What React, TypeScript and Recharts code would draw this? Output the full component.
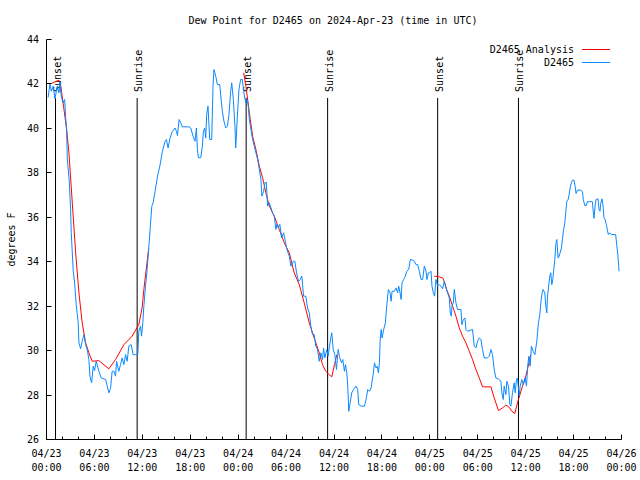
import React from 'react';
import { ComposedChart, Line, XAxis, YAxis, ReferenceLine, Legend } from 'recharts';

const FONT = '"DejaVu Sans Mono", "Liberation Mono", monospace';
const TITLE = 'Dew Point for D2465 on 2024-Apr-23 (time in UTC)';
const Y_LABEL = 'degrees F';
const START_MONTH = '04';
const START_DAY = 23;
const RED = '#ff0000';
const BLUE = '#0a88ff';

const X_TICKS = [0, 2, 4, 6, 8, 10, 12, 14, 16, 18, 20, 22, 24, 26, 28, 30, 32, 34, 36, 38, 40, 42, 44, 46, 48, 50, 52, 54, 56, 58, 60, 62, 64, 66, 68, 70, 72];
const Y_TICKS = [26, 28, 30, 32, 34, 36, 38, 40, 42, 44];

const SUN_EVENTS = [
  { h: 1.13, label: 'Sunset' },
  { h: 11.35, label: 'Sunrise' },
  { h: 25.0, label: 'Sunset' },
  { h: 35.2, label: 'Sunrise' },
  { h: 48.98, label: 'Sunset' },
  { h: 59.1, label: 'Sunrise' },
];
const SUN_LINE_TOP = 41.37;

const SERIES_NAMES = ['D2465 Analysis', 'D2465'];

// hours since 04/23 00:00 UTC, dew point in F
const blueSeries: [number, number][] = [
  [0.19,41.38],[0.44,42.0],[0.6,41.67],[0.85,41.9],[1.06,41.33],[1.35,41.9],[1.56,41.6],[1.69,42.1],[1.85,41.45],[2.06,41.15],[2.27,41.3],[2.4,40.48],[2.52,39.95],[2.6,38.68],[2.85,37.62],[3.02,36.35],[3.1,35.3],[3.35,33.57],[3.52,33.05],[3.72,32.07],[3.97,31.25],[4.06,30.35],[4.27,30.08],[4.47,30.42],[4.69,30.72],[4.9,30.27],[5.1,30.05],[5.31,29.6],[5.44,28.85],[5.65,28.55],[5.85,29.3],[6.02,29.1],[6.22,29.52],[6.56,29.07],[6.85,28.77],[7.4,28.7],[7.6,28.4],[7.81,28.1],[8.02,28.3],[8.22,29.07],[8.44,29.07],[8.65,28.85],[8.77,29.52],[9.06,29.07],[9.27,29.37],[9.47,29.67],[9.69,29.37],[9.9,29.82],[10.1,29.52],[10.31,30.2],[10.6,30.27],[10.85,29.82],[11.15,29.82],[11.44,29.85],[11.56,30.87],[11.77,31.1],[11.9,30.65],[12.06,31.25],[12.19,32.0],[12.4,32.9],[12.6,33.65],[12.85,34.85],[12.97,35.45],[13.19,36.5],[13.35,36.65],[13.6,37.17],[13.9,37.85],[14.19,38.3],[14.52,38.97],[14.85,39.42],[15.02,39.5],[15.22,39.12],[15.47,39.57],[15.77,39.87],[16.1,40.02],[16.27,39.87],[16.4,39.68],[16.6,40.4],[16.81,40.25],[17.02,40.07],[17.85,40.07],[18.06,40.02],[18.35,39.65],[18.6,39.42],[18.77,40.02],[18.9,39.05],[19.02,38.68],[19.31,38.68],[19.52,39.2],[19.65,39.87],[19.81,40.02],[19.94,39.57],[20.06,40.62],[20.22,41.0],[20.35,40.1],[20.44,39.5],[20.69,39.5],[20.85,41.9],[20.97,42.65],[21.19,42.35],[21.4,41.97],[21.69,41.97],[21.81,41.52],[22.02,40.77],[22.22,40.32],[22.44,40.02],[22.65,40.1],[22.85,40.62],[23.06,41.67],[23.19,42.05],[23.4,41.3],[23.6,40.1],[23.69,39.12],[23.9,40.55],[24.1,41.75],[24.31,42.2],[24.52,42.2],[24.72,41.6],[24.94,41.15],[25.15,41.3],[25.27,41.0],[25.4,40.4],[25.6,39.95],[25.81,39.5],[26.02,39.2],[26.22,38.9],[26.44,38.6],[26.65,38.15],[26.85,37.7],[26.97,36.95],[27.19,37.17],[27.35,37.55],[27.52,37.58],[27.69,36.5],[27.9,36.65],[28.1,36.43],[28.31,36.2],[28.52,36.05],[28.72,35.45],[28.85,35.68],[29.02,35.52],[29.22,35.68],[29.44,35.08],[29.69,35.3],[29.9,34.93],[30.1,34.55],[30.4,34.25],[30.6,33.8],[30.9,34.02],[31.1,34.02],[31.31,33.5],[31.56,33.12],[31.77,33.2],[31.97,33.35],[32.19,32.45],[32.47,32.45],[32.69,31.92],[32.9,31.7],[33.1,31.1],[33.31,30.72],[33.52,30.72],[33.72,30.2],[33.94,30.05],[34.15,29.52],[34.35,29.9],[34.56,29.6],[34.69,30.12],[34.85,29.67],[35.1,30.05],[35.27,29.75],[35.44,30.2],[35.6,30.58],[35.72,30.8],[35.9,30.05],[36.1,29.82],[36.31,29.15],[36.52,30.05],[36.72,29.67],[36.94,29.45],[37.1,29.6],[37.31,29.07],[37.44,29.37],[37.6,29.0],[37.72,28.4],[37.85,27.27],[38.02,27.65],[38.22,28.1],[38.44,28.25],[38.77,28.4],[38.97,28.25],[39.1,27.57],[39.4,27.5],[39.81,27.5],[40.02,27.8],[40.22,28.25],[40.44,28.17],[40.65,28.32],[40.77,28.62],[40.94,29.0],[41.06,29.45],[41.27,29.22],[41.4,29.3],[41.56,29.0],[41.69,29.45],[41.77,30.42],[41.9,30.95],[42.02,30.57],[42.22,30.95],[42.44,31.25],[42.6,32.0],[42.81,32.75],[43.02,32.6],[43.15,32.22],[43.27,32.67],[43.56,32.67],[43.77,32.82],[43.97,32.6],[44.1,32.9],[44.27,32.6],[44.4,32.3],[44.52,33.05],[44.72,33.2],[44.94,33.35],[45.1,33.57],[45.35,33.65],[45.56,34.1],[45.85,34.07],[46.06,34.02],[46.27,33.87],[46.47,33.87],[46.69,33.57],[46.9,33.2],[47.1,33.2],[47.31,33.8],[47.52,33.57],[47.65,33.2],[47.81,33.5],[47.94,33.5],[48.15,33.57],[48.27,32.9],[48.44,32.6],[48.6,32.45],[48.77,33.2],[48.97,32.9],[49.19,32.97],[49.4,32.9],[49.6,32.78],[49.81,33.12],[50.02,32.82],[50.22,32.6],[50.44,32.37],[50.56,31.7],[50.69,31.55],[50.77,32.0],[50.94,32.15],[51.06,32.75],[51.27,32.15],[51.47,31.85],[51.9,31.85],[52.02,31.17],[52.19,31.4],[52.4,31.47],[52.52,30.95],[52.72,30.87],[53.35,30.95],[53.56,30.2],[53.77,30.12],[53.97,30.42],[54.19,30.57],[54.4,30.5],[54.6,30.05],[54.81,29.67],[55.22,29.67],[55.44,29.75],[55.65,30.05],[55.85,29.82],[56.06,29.15],[56.27,28.77],[56.6,28.72],[56.9,28.62],[57.02,28.1],[57.19,27.8],[57.31,28.4],[57.52,28.02],[57.65,28.62],[57.85,28.4],[58.02,27.57],[58.15,27.5],[58.35,28.1],[58.56,28.55],[58.69,28.1],[58.85,28.7],[58.97,28.77],[59.19,27.95],[59.31,28.4],[59.52,28.7],[59.72,28.47],[59.94,28.77],[60.1,28.4],[60.27,29.37],[60.4,29.75],[60.56,29.3],[60.72,30.2],[60.94,29.97],[61.15,29.82],[61.27,30.12],[61.4,30.42],[61.48,30.8],[61.6,31.25],[61.77,31.62],[61.9,32.15],[62.02,32.52],[62.19,32.75],[62.4,32.6],[62.52,32.0],[62.65,31.7],[62.72,32.37],[62.85,32.82],[63.02,33.35],[63.15,33.5],[63.27,32.97],[63.4,33.2],[63.52,33.65],[63.65,34.1],[63.77,34.77],[63.9,35.0],[64.06,34.17],[64.19,34.25],[64.31,34.4],[64.48,34.62],[64.6,35.0],[64.72,35.37],[64.9,35.75],[65.02,36.2],[65.15,36.72],[65.31,36.8],[65.44,37.02],[65.56,37.32],[65.72,37.55],[65.85,37.67],[66.06,37.67],[66.19,37.4],[66.31,37.07],[66.48,37.22],[66.9,37.22],[67.1,37.17],[67.22,36.8],[67.4,36.53],[67.6,36.53],[67.72,36.7],[68.35,36.7],[68.48,36.2],[68.56,35.95],[68.69,36.5],[68.81,36.8],[69.06,36.83],[69.19,36.35],[69.31,36.27],[69.4,36.62],[69.56,36.83],[69.69,36.5],[69.81,35.97],[69.94,35.9],[70.1,35.67],[70.22,35.45],[70.35,35.22],[70.52,35.3],[70.72,35.22],[71.27,35.22],[71.4,34.77],[71.52,34.4],[71.65,33.8],[71.69,33.57],
];

const redSeries: [number, number | null][] = [
  [0.6,42.02],[1.56,42.17],[1.77,41.95],[2.19,40.85],[2.52,39.95],[2.81,38.9],[3.23,36.65],[3.65,34.4],[4.06,32.6],[4.47,31.25],[4.9,30.35],[5.31,29.9],[5.72,29.52],[6.56,29.55],[7.81,29.18],[8.65,29.6],[9.69,30.27],[10.72,30.65],[11.56,31.17],[11.97,31.92],[12.19,32.75],[12.6,34.0],[12.8,34.6],
  [18, null],
  [24.69,42.5],[24.97,41.9],[25.4,40.7],[25.81,39.65],[26.22,39.05],[26.65,38.3],[27.06,37.78],[27.47,37.1],[27.9,36.5],[28.52,36.05],[29.15,35.45],[29.77,34.85],[30.4,34.4],[31.02,33.5],[31.65,32.97],[32.27,32.15],[32.9,31.25],[33.52,30.57],[34.15,29.9],[34.56,29.37],[34.97,29.07],[35.4,28.92],[35.72,28.82],[36.06,29.37],[36.35,29.82],
  [42, null],
  [48.56,33.35],[49.19,33.32],[49.6,33.27],[49.81,33.12],[50.1,32.75],[50.44,32.45],[50.85,32.0],[51.27,31.55],[51.69,31.02],[52.1,30.65],[52.52,30.35],[52.94,29.97],[53.35,29.6],[53.77,29.15],[54.19,28.77],[54.6,28.37],[55.65,28.37],[56.06,27.87],[56.6,27.3],[57.1,27.42],[57.52,27.55],[57.94,27.45],[58.27,27.27],[58.65,27.17],[58.97,27.65],[59.27,28.0],[59.6,28.4],[60.02,28.85],[60.31,29.3],[60.65,29.82],
];

const blueData = blueSeries.map(([h, v]) => ({ h, v }));
const redData = redSeries.map(([h, v]) => ({ h, v }));

const crisp = (n: number) => Math.round(n - 0.5) + 0.5;
const pad = (n: number) => (n < 10 ? '0' + n : '' + n);

const textStyle = { fontFamily: FONT, fontSize: 10, fill: '#000' };

const XTickBottom = (p: any) => {
  const v = p.payload.value;
  const major = v % 6 === 0;
  const x = crisp(p.x);
  const day = START_DAY + Math.floor(v / 24);
  const hr = v % 24;
  return (
    <g>
      <line x1={x} x2={x} y1={p.y} y2={p.y - (major ? 5 : 3)} stroke="#000" strokeWidth={1} />
      {major && (
        <text x={p.x} y={p.y + 17.5} textAnchor="middle" {...textStyle}>{`${START_MONTH}/${day}`}</text>
      )}
      {major && (
        <text x={p.x} y={p.y + 31.5} textAnchor="middle" {...textStyle}>{`${pad(hr)}:00`}</text>
      )}
    </g>
  );
};

const XTickTop = (p: any) => {
  const v = p.payload.value;
  const major = v % 6 === 0;
  const x = crisp(p.x);
  return <line x1={x} x2={x} y1={p.y} y2={p.y + (major ? 5 : 3)} stroke="#000" strokeWidth={1} />;
};

const YTickLeft = (p: any) => {
  const y = crisp(p.y);
  return (
    <g>
      <line x1={p.x} x2={p.x + 5} y1={y} y2={y} stroke="#000" strokeWidth={1} />
      <text x={p.x - 7.5} y={p.y + 3.5} textAnchor="end" {...textStyle}>{p.payload.value}</text>
    </g>
  );
};

const YTickRight = (p: any) => {
  const y = crisp(p.y);
  return <line x1={p.x} x2={p.x - 5} y1={y} y2={y} stroke="#000" strokeWidth={1} />;
};

const YLabel = (p: any) => {
  const vb = p.viewBox || { x: 0, y: 39.5, width: 46.5, height: 400 };
  const cx = vb.x + 15;
  const cy = vb.y + vb.height / 2;
  return (
    <text x={cx} y={cy} transform={`rotate(-90, ${cx}, ${cy})`} textAnchor="middle" {...textStyle}>{Y_LABEL}</text>
  );
};

const SunLabel = (p: any) => {
  const vb = p.viewBox || { x: 0, y: 0 };
  const tx = vb.x + 5;
  const ty = vb.y - 6;
  return (
    <text x={tx} y={ty} transform={`rotate(-90, ${tx}, ${ty})`} textAnchor="start" {...textStyle}>{p.text}</text>
  );
};

const LegendBox = () => (
  <svg width={640} height={80} style={{ display: 'block', overflow: 'visible' }}>
    <text x={333} y={24} textAnchor="middle" {...textStyle}>{TITLE}</text>
    <text x={574} y={53} textAnchor="end" {...textStyle}>{SERIES_NAMES[0]}</text>
    <line x1={582} x2={610} y1={49.5} y2={49.5} stroke={RED} strokeWidth={1} />
    <text x={574} y={66} textAnchor="end" {...textStyle}>{SERIES_NAMES[1]}</text>
    <line x1={582} x2={610} y1={62.5} y2={62.5} stroke={BLUE} strokeWidth={1} />
  </svg>
);

export default function App() {
  return (
    <div style={{ position: 'absolute', left: 0, top: 0, width: 640, height: 480, background: '#fff' }}>
      <ComposedChart width={640} height={480} margin={{ top: 39.5, right: 18.5, bottom: 0, left: 0 }}>
        <XAxis
          xAxisId={0}
          dataKey="h"
          type="number"
          domain={[0, 72]}
          ticks={X_TICKS}
          interval={0}
          height={40.5}
          tickSize={0}
          tickMargin={0}
          tick={<XTickBottom />}
          axisLine={{ stroke: '#000' }}
          allowDataOverflow
        />
        <XAxis
          xAxisId="top"
          orientation="top"
          type="number"
          domain={[0, 72]}
          ticks={X_TICKS}
          interval={0}
          height={0}
          tickSize={0}
          tickMargin={0}
          tick={<XTickTop />}
          axisLine={{ stroke: '#000' }}
          allowDataOverflow
        />
        <YAxis
          yAxisId={0}
          type="number"
          domain={[26, 44]}
          ticks={Y_TICKS}
          interval={0}
          width={46.5}
          tickSize={0}
          tickMargin={0}
          tick={<YTickLeft />}
          axisLine={{ stroke: '#000' }}
          label={<YLabel />}
          allowDataOverflow
        />
        <YAxis
          yAxisId="right"
          orientation="right"
          type="number"
          domain={[26, 44]}
          ticks={Y_TICKS}
          interval={0}
          width={0}
          tickSize={0}
          tickMargin={0}
          tick={<YTickRight />}
          axisLine={{ stroke: '#000' }}
          allowDataOverflow
        />
        {SUN_EVENTS.map((e, i) => (
          <ReferenceLine
            key={i}
            xAxisId={0}
            yAxisId={0}
            segment={[{ x: e.h, y: SUN_LINE_TOP }, { x: e.h, y: 26 }]}
            stroke="#000"
            strokeWidth={1}
            ifOverflow="visible"
            label={<SunLabel text={e.label} />}
          />
        ))}
        <Line
          data={redData}
          dataKey="v"
          name={SERIES_NAMES[0]}
          xAxisId={0}
          yAxisId={0}
          type="linear"
          stroke={RED}
          strokeWidth={1}
          dot={false}
          activeDot={false}
          connectNulls={false}
          isAnimationActive={false}
        />
        <Line
          data={blueData}
          dataKey="v"
          name={SERIES_NAMES[1]}
          xAxisId={0}
          yAxisId={0}
          type="linear"
          stroke={BLUE}
          strokeWidth={1}
          dot={false}
          activeDot={false}
          isAnimationActive={false}
        />
        <Legend
          layout="horizontal"
          align="center"
          verticalAlign="middle"
          content={<LegendBox />}
          wrapperStyle={{ position: 'absolute', left: 0, top: 0, width: 640, height: 80, pointerEvents: 'none' }}
        />
      </ComposedChart>
    </div>
  );
}
